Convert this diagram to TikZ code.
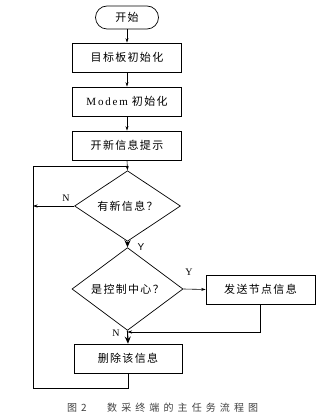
\documentclass[tikz,border=0pt]{standalone}
\usepackage{fontspec}
\setmainfont{Liberation Serif}
\newfontfamily\lsans{Liberation Sans}
\newfontfamily\cjk[LetterSpace=12]{Noto Sans CJK SC}
\newfontfamily\cjkcap[LetterSpace=41]{Noto Sans CJK SC}
\usetikzlibrary{shapes.geometric,arrows.meta}
\begin{document}
\begin{tikzpicture}[x=1pt,y=-1pt,
  font=\fontsize{11}{13}\selectfont,
  box/.style={draw, line width=0.7pt, minimum width=109pt, minimum height=29pt, inner sep=0pt},
  dec/.style={draw, diamond, line width=0.7pt, inner sep=0pt},
  arr/.style={-{Stealth[length=4.5pt,width=3pt]}, line width=0.6pt},
  bigarr/.style={-{Stealth[length=7pt,width=6pt]}, line width=1.1pt},
  ln/.style={line width=0.6pt},
  lbl/.style={font=\fontsize{10}{12}\selectfont, inner sep=0pt}]
\useasboundingbox (0,0) rectangle (328,419);
\node[draw, rounded corners=11.5pt, minimum width=63pt, minimum height=23pt, inner sep=0pt, line width=0.7pt] (start) at (127,17.5) {\cjk 开始};
\node[box] (b1) at (127,57.5) {\cjk 目标板初始化};
\node[box] (b2) at (127,101.5) {M\,o\,d\,e\,m\hspace{4pt}{\cjk 初始化}};
\node[box] (b3) at (127,145.5) {\cjk 开新信息提示};
\node[dec, minimum width=106pt, minimum height=62pt] (d1) at (127.5,206) {\cjk 有新信息？};
\node[dec, minimum width=111pt, minimum height=62pt] (d2) at (127.5,289) {\cjk 是控制中心？};
\node[box] (b4) at (260.5,289.5) {\cjk 发送节点信息};
\node[box, minimum width=108pt] (b5) at (128,358.5) {\cjk 删除该信息};
\coordinate (top) at (127.5,166);
\coordinate (nl) at (33,206);
\coordinate (j) at (127.5,332);
\coordinate (bl) at (33,388);
\draw[arr] (start.south) -- (b1.north);
\draw[arr] (b1.south) -- (b2.north);
\draw[arr] (b2.south) -- (b3.north);
\draw[arr] (b3.south) -- (d1.north);
\draw[arr] (d1.west) -- (nl);
\draw[bigarr] (d1.south) -- (d2.north);
\draw[arr] (d2.east) -- (b4.west);
\draw[bigarr] (d2.south) -- (b5.north);
\draw[arr] (b4.south) |- (j);
\draw[ln] (b5.south) |- (bl) |- (top);
\node[lbl] (n1) at (66,198) {N};
\node[lbl] (y1) at (141,247) {\lsans Y};
\node[lbl] (y2) at (189,272) {Y};
\node[lbl] (n2) at (116,333) {N};
\node[anchor=west, inner sep=0pt, font=\fontsize{10}{12}\selectfont, text=black!75] (cap1) at (67,408) {\cjkcap 图\hspace{4pt}2};
\node[anchor=west, inner sep=0pt, font=\fontsize{10}{12}\selectfont, text=black!75] (cap2) at (107,408) {\cjkcap 数采终端的主任务流程图};
\end{tikzpicture}
\end{document}
